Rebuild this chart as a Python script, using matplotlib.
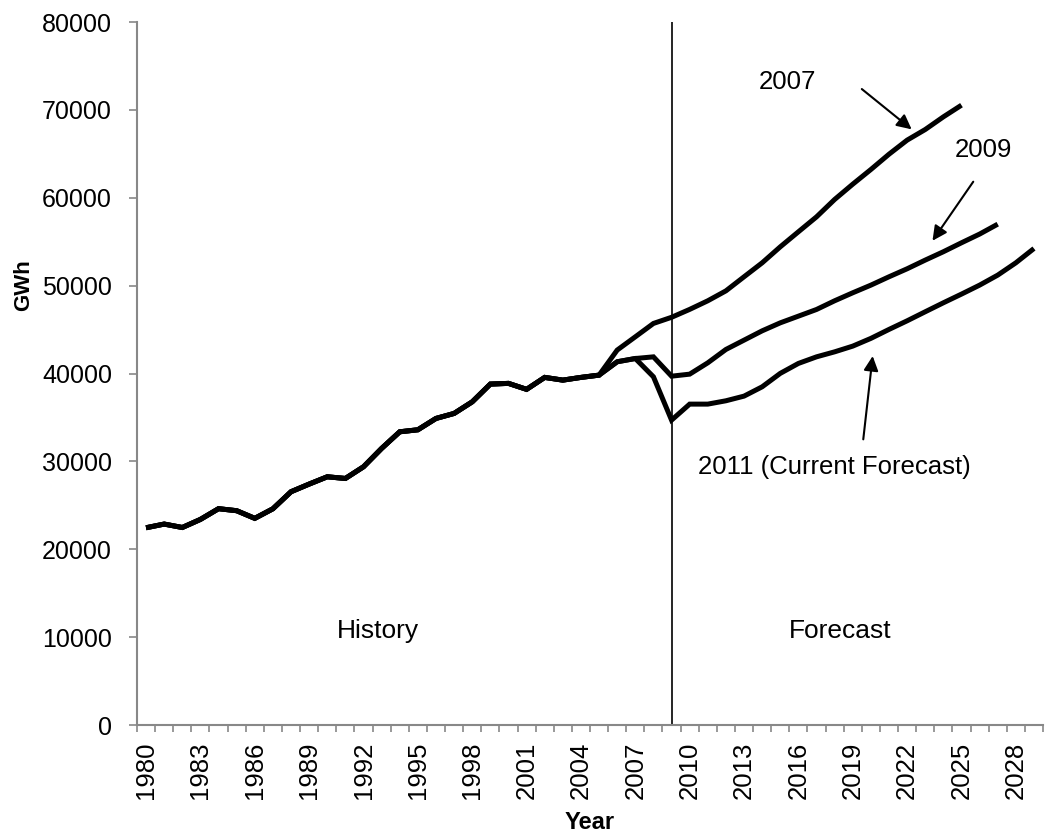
import matplotlib
matplotlib.use('Agg')
import matplotlib.pyplot as plt

# history (shared by all three forecasts), 1980-2005
history_years = list(range(1980, 2006))
history_gwh = [22450, 22870, 22480, 23400, 24620, 24390, 23520, 24610, 26550, 27420,
               28250, 28060, 29390, 31480, 33370, 33600, 34890, 35460, 36780, 38800,
               38880, 38200, 39560, 39250, 39560, 39820]

# forecast vintages, values from 2006 on
f2007_years = list(range(2006, 2026))
f2007_gwh = [42670, 44180, 45700, 46400, 47300, 48280, 49410, 51010, 52600, 54420,
             56130, 57830, 59810, 61550, 63220, 64960, 66560, 67770, 69210, 70540]

f2009_years = list(range(2006, 2028))
f2009_gwh = [41340, 41710, 41900, 39700, 39930, 41220, 42740, 43800, 44860, 45770,
             46530, 47290, 48280, 49190, 50060, 51010, 51920, 52910, 53860, 54880,
             55870, 57000]

f2011_years = list(range(2006, 2030))
f2011_gwh = [41340, 41710, 39630, 34700, 36520, 36520, 36900, 37430, 38490, 40020,
             41150, 41900, 42470, 43120, 44000, 45020, 46000, 47030, 48050, 49040,
             50060, 51200, 52600, 54230]

tick_years = list(range(1980, 2030, 3))
split_year = 2009


def main():
    plt.rcParams['font.family'] = ['Liberation Sans', 'DejaVu Sans']
    fig = plt.figure(figsize=(10.49, 8.38), dpi=100)
    ax = fig.add_axes([0.1306, 0.1348, 0.8637, 0.8389])

    # each vintage drawn as full line (history + forecast)
    for yrs, vals in [(f2011_years, f2011_gwh), (f2009_years, f2009_gwh), (f2007_years, f2007_gwh)]:
        ax.plot(history_years + yrs, history_gwh + vals, color='black', lw=3.6,
                solid_joinstyle='miter', solid_capstyle='butt')

    ax.axvline(split_year, color='black', lw=1.2)

    ax.set_xlim(1979.5, 2029.5)
    ax.set_ylim(0, 80000)
    ax.set_yticks(range(0, 80001, 10000))

    # Excel-style category axis: marks between categories, labels every 3 years
    ax.set_xticks(tick_years)
    ax.set_xticklabels([str(y) for y in tick_years], rotation=90, fontsize=18.5)
    ax.set_xticks([y + 0.5 for y in range(1979, 2030)], minor=True)
    ax.tick_params(axis='x', which='major', length=0, pad=12)
    ax.tick_params(axis='x', which='minor', length=5, width=1.2, color='#888888')
    ax.tick_params(axis='y', length=6, width=1.2, color='#888888', labelsize=18, pad=12)

    for side in ['top', 'right']:
        ax.spines[side].set_visible(False)
    for side in ['left', 'bottom']:
        ax.spines[side].set_color('#888888')
        ax.spines[side].set_linewidth(1.5)

    ax.set_ylabel('GWh', fontsize=16, fontweight='bold')
    ax.yaxis.set_label_coords(-0.113, 0.626)
    ax.set_xlabel('Year', fontsize=17, fontweight='bold')
    ax.xaxis.set_label_coords(0.5, -0.122)

    ax.text(1992.8, 10700, 'History', fontsize=19, ha='center', va='center')
    ax.text(2018.3, 10700, 'Forecast', fontsize=19, ha='center', va='center')

    arrow = dict(arrowstyle='-|>', color='black', lw=1.5, mutation_scale=22, shrinkA=0, shrinkB=0)
    ax.text(2015.4, 73170, '2007', fontsize=18.5, ha='center', va='center')
    ax.annotate('', xy=(2022.25, 67790), xytext=(2019.5, 72375), arrowprops=arrow)
    ax.text(2026.2, 65400, '2009', fontsize=18.5, ha='center', va='center')
    ax.annotate('', xy=(2023.4, 55110), xytext=(2025.65, 61830), arrowprops=arrow)
    ax.text(2018.0, 29400, '2011 (Current Forecast)', fontsize=18.5, ha='center', va='center')
    ax.annotate('', xy=(2020.1, 41990), xytext=(2019.58, 32510), arrowprops=arrow)

    fig.savefig('out.png', dpi=100)


if __name__ == "__main__":
    main()
